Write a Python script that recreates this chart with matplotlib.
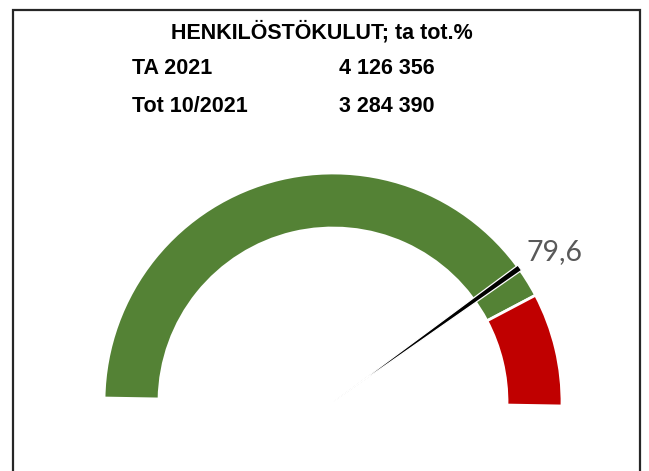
import matplotlib.pyplot as plt
from matplotlib.patches import Wedge

# gauge data
band_values = [84, 16]          # green share, red share (of 100)
band_colors = ['#548235', '#C00000']
needle_value = 79.6
needle_label = '79,6'

title = 'HENKILÖSTÖKULUT; ta tot.%'
row_labels = ['TA 2021', 'Tot 10/2021']
row_values = ['4 126 356', '3 284 390']

W, H = 649, 471
fig = plt.figure(figsize=(W / 100, H / 100), dpi=100)
ax = fig.add_axes([0, 0, 1, 1])

# gauge geometry (pixels, y measured up from the bottom)
cx, cy = 333, H - 402
r_out, ring = 229, 55
tilt = 1.0  # the gauge is turned slightly clockwise

ax.pie(band_values + [sum(band_values)],
       colors=band_colors + ['none'],
       startangle=180 - tilt, counterclock=False,
       center=(cx, cy), radius=r_out,
       wedgeprops=dict(width=ring, edgecolor='white', linewidth=2))
# hide the invisible lower half's edge
ax.patches[-1].set_edgecolor('none')

ang = 180 - tilt - needle_value / sum(band_values) * 180
ax.add_patch(Wedge((cx, cy), r_out + 1, ang - 0.8, ang + 0.8,
                   facecolor='black', edgecolor='white', linewidth=0.9, zorder=5))
ax.text(527, H - 252, needle_label, fontsize=20.5, color='#595959',
        family='Lato', va='center', ha='left')

ax.set_xlim(0, W)
ax.set_ylim(0, H)
ax.set_aspect('equal')
ax.axis('off')

# header texts
ax.text(322, H - 32, title, fontsize=15.5, fontweight='bold',
        family='Liberation Sans', ha='center', va='center')
for i, (lab, val) in enumerate(zip(row_labels, row_values)):
    y = H - (69 + i * 38)
    ax.text(132, y, lab, fontsize=15.5, fontweight='bold',
            family='Liberation Sans', ha='left', va='center')
    ax.text(339, y, val, fontsize=15.5, fontweight='bold',
            family='Liberation Sans', ha='left', va='center')

# frame around the panel (open at the bottom)
ax.plot([13, 13, 640, 640], [-5, H - 10, H - 10, -5], color='#262626',
        linewidth=1.6, solid_joinstyle='miter', clip_on=False)

fig.savefig('out.png', dpi=100)
